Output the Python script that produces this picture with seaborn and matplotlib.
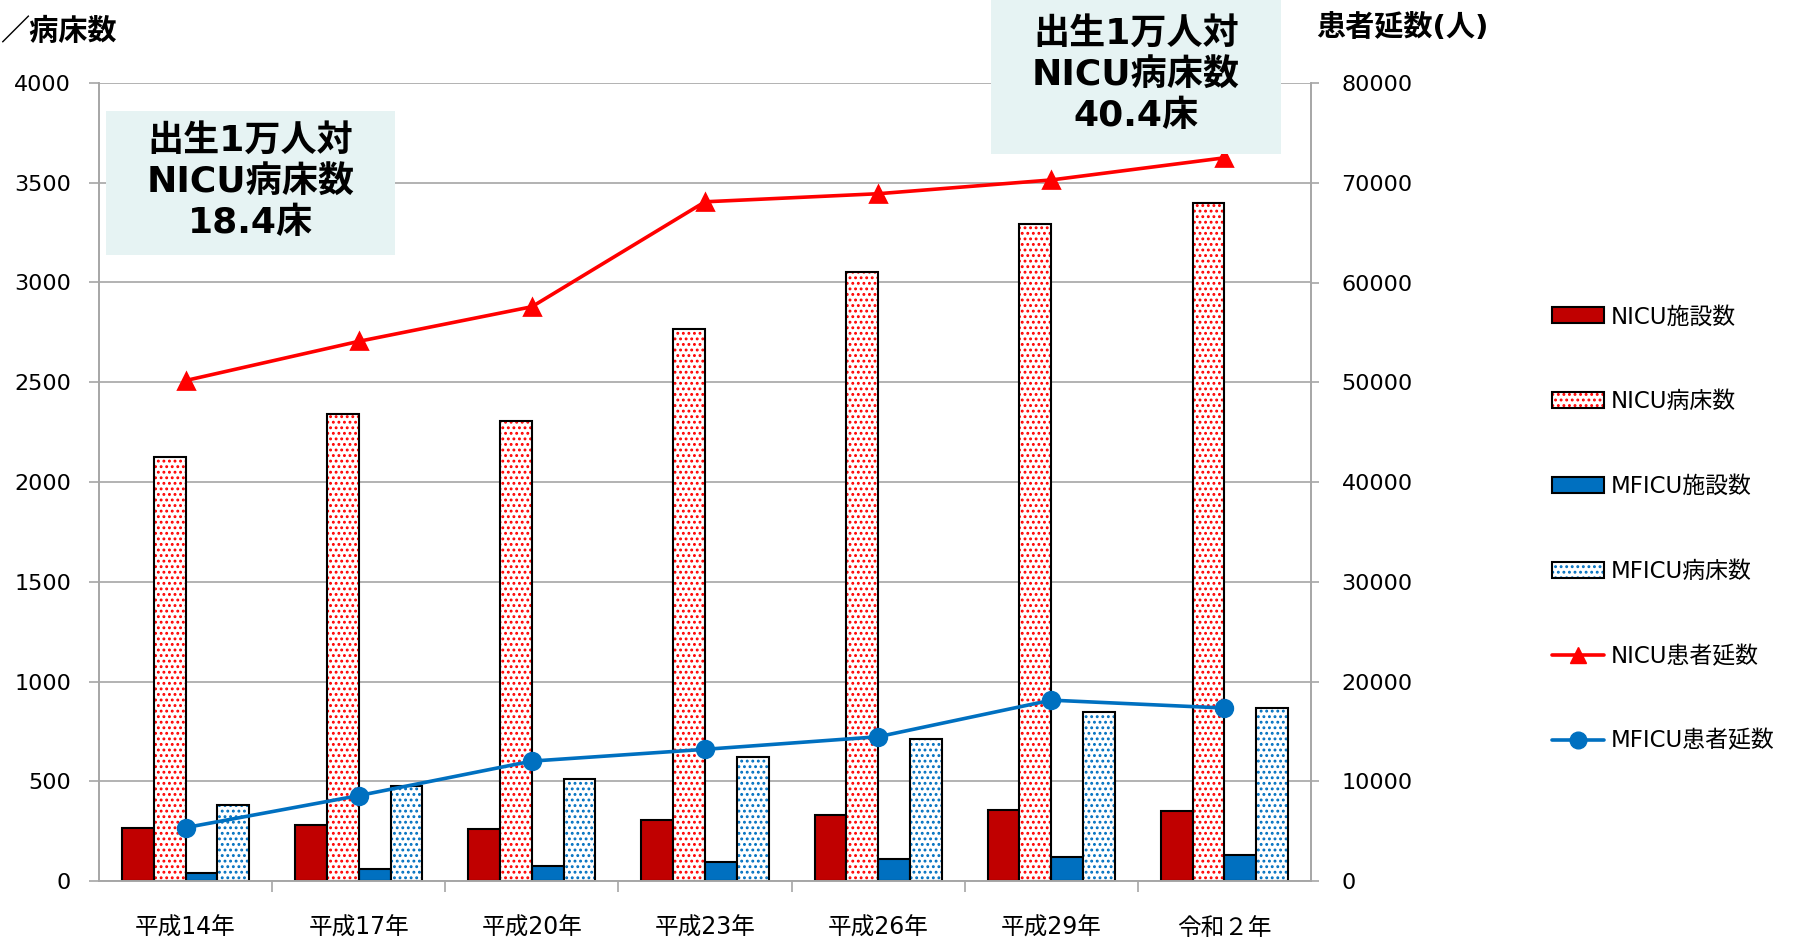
import numpy as np
import pandas as pd
import matplotlib
matplotlib.use('Agg')
import matplotlib.pyplot as plt
import seaborn as sns
from matplotlib.patches import Patch, Rectangle
from matplotlib.lines import Line2D
from matplotlib.legend_handler import HandlerTuple

# ---------------- data ----------------
years = ['平成14年', '平成17年', '平成20年', '平成23年', '平成26年', '平成29年', '令和２年']
bar_names = ['NICU施設数', 'NICU病床数', 'MFICU施設数', 'MFICU病床数']
nicu_fac = [264, 280, 263, 308, 330, 354, 353]
nicu_beds = [2125, 2340, 2306, 2767, 3055, 3291, 3396]
mficu_fac = [40, 62, 76, 96, 111, 122, 131]
mficu_beds = [382, 475, 510, 623, 713, 849, 867]
line_names = ['NICU患者延数', 'MFICU患者延数']
nicu_pat = [50170, 54100, 57570, 68090, 68900, 70280, 72500]
mficu_pat = [5350, 8560, 12020, 13200, 14460, 18130, 17340]
left_label = '／病床数'
right_label = '患者延数(人)'
note1 = '出生1万人対\nNICU病床数\n18.4床'
note2 = '出生1万人対\nNICU病床数\n40.4床'

DARK_RED = '#C00000'
RED = '#FF0000'
BLUE = '#0070C0'
GRID = '#A6A6A6'
BOX = '#E6F3F3'

sns.set_theme(style='white')
plt.rcParams['font.family'] = ['DejaVu Sans', 'Noto Sans CJK JP']
plt.rcParams['hatch.linewidth'] = 1.3
plt.rcParams['text.color'] = 'black'

W, H = 1811, 938
fig = plt.figure(figsize=(W / 100, H / 100), dpi=100)
ax = fig.add_axes([99 / W, 57 / H, 1212 / W, 798 / H])

df = pd.DataFrame({
    'year': years * 4,
    'series': sum([[n] * len(years) for n in bar_names], []),
    'value': nicu_fac + nicu_beds + mficu_fac + mficu_beds,
})

sns.barplot(data=df, x='year', y='value', hue='series', order=years,
            hue_order=bar_names, palette=[DARK_RED, 'white', BLUE, 'white'],
            width=0.735, saturation=1, errorbar=None, legend=False, ax=ax)

hatch_colors = {1: RED, 3: BLUE}
for i, cont in enumerate(ax.containers):
    for p in cont.patches:
        if i in hatch_colors:
            p.set_facecolor('white')
            p.set_edgecolor(hatch_colors[i])
            p.set_hatch('...')
            p.set_linewidth(0)
            ax.add_patch(Rectangle(p.get_xy(), p.get_width(), p.get_height(),
                                   fill=False, edgecolor='black', lw=1.5,
                                   zorder=p.get_zorder() + 0.1))
        else:
            p.set_edgecolor('black')
            p.set_linewidth(1.5)

ax.set_ylim(0, 4000)
ax.set_yticks(np.arange(0, 4001, 500))
ax.yaxis.grid(True, color=GRID, lw=1.2)
ax.xaxis.grid(False)
ax.set_axisbelow(True)
ax.set_xlabel('')
ax.set_ylabel('')

ax2 = ax.twinx()
sns.pointplot(x=years, y=nicu_pat, order=years, ax=ax2, color=RED, markers='^',
              markersize=11, linewidth=2.6, errorbar=None)
sns.pointplot(x=years, y=mficu_pat, order=years, ax=ax2, color=BLUE, markers='o',
              markersize=12, linewidth=2.6, errorbar=None)
ax2.set_ylim(0, 80000)
ax2.set_yticks(np.arange(0, 80001, 10000))
ax2.grid(False)
ax2.set_ylabel('')
ax2.set_xlabel('')

ax.set_xlim(-0.5, len(years) - 0.5)
ax2.set_xlim(-0.5, len(years) - 0.5)
ax.set_xticks(range(len(years)))
ax.set_xticklabels(years)
ax.set_xticks(np.arange(0.5, len(years) - 0.5, 1), minor=True)
ax.tick_params(axis='x', which='major', length=0, pad=25, labelsize=17, labelcolor='black')
ax.tick_params(axis='x', which='minor', length=8, width=1.2, color=GRID, bottom=True)
ax.tick_params(axis='y', length=7, width=1.2, color=GRID, pad=13, labelsize=16,
               labelcolor='black', left=True)
ax2.tick_params(axis='y', length=6, width=1.2, color=GRID, pad=16, labelsize=16,
                labelcolor='black', right=True)

for a in (ax, ax2):
    a.spines['top'].set_visible(False)
    for s in ['left', 'right', 'bottom']:
        a.spines[s].set_color(GRID)
        a.spines[s].set_linewidth(1.2)

# annotation boxes
fig.add_artist(Rectangle((106 / W, 1 - 255 / H), 289 / W, 144 / H,
                         transform=fig.transFigure, facecolor=BOX,
                         edgecolor='none', zorder=5))
fig.text(250.5 / W, 1 - 182 / H, note1, ha='center', va='center', fontsize=26,
         fontweight='bold', linespacing=1.27, zorder=6, color='black')
fig.add_artist(Rectangle((991 / W, 1 - 154 / H), 290 / W, 160 / H,
                         transform=fig.transFigure, facecolor=BOX,
                         edgecolor='none', zorder=5))
fig.text(1136 / W, 1 - 75 / H, note2, ha='center', va='center', fontsize=26,
         fontweight='bold', linespacing=1.27, zorder=6, color='black')

fig.text(0, 1 - 32 / H, left_label, ha='left', va='center', fontsize=21,
         fontweight='bold', color='black')
fig.text(1316 / W, 1 - 28 / H, right_label, ha='left', va='center', fontsize=21,
         fontweight='bold', color='black')

# legend
handles = [
    Patch(facecolor=DARK_RED, edgecolor='black', lw=1.5),
    (Patch(facecolor='white', edgecolor=RED, hatch='...', lw=0),
     Patch(facecolor='none', edgecolor='black', lw=1.5)),
    Patch(facecolor=BLUE, edgecolor='black', lw=1.5),
    (Patch(facecolor='white', edgecolor=BLUE, hatch='...', lw=0),
     Patch(facecolor='none', edgecolor='black', lw=1.5)),
    Line2D([], [], color=RED, marker='^', markersize=11, lw=2.6),
    Line2D([], [], color=BLUE, marker='o', markersize=12, lw=2.6),
]
leg = fig.legend(handles, bar_names + line_names,
                 handler_map={tuple: HandlerTuple(ndivide=1, pad=0)},
                 loc='center left', bbox_to_anchor=(1531 / W, 1 - 529 / H),
                 frameon=False, fontsize=16.5, handlelength=2.3, handleheight=0.7,
                 labelspacing=2.7, handletextpad=0.3)
for t in leg.get_texts():
    t.set_color('black')

fig.savefig('out.png', dpi=100)
